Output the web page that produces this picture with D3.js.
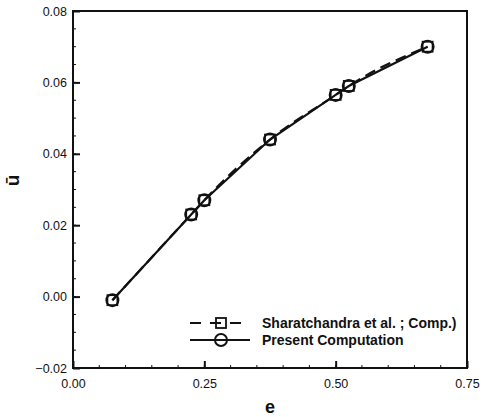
<!DOCTYPE html>
<html>
<head>
<meta charset="utf-8">
<script src="https://cdn.jsdelivr.net/npm/d3@7"></script>
<style>
  body { margin: 0; background: #fff; }
  text { font-family: "Liberation Sans", Arial, sans-serif; fill: #111; }
</style>
</head>
<body>
<div class="chart"></div>
<script>
// data
var eValues = [0.075, 0.225, 0.25, 0.375, 0.5, 0.525, 0.675];
var presentU = [-0.001, 0.023, 0.027, 0.044, 0.0565, 0.059, 0.070];
var sharatU = [-0.001, 0.023, 0.027, 0.044, 0.0565, 0.059, 0.070];
var xTicks = [0, 0.25, 0.5, 0.75];
var yTicks = [-0.02, 0, 0.02, 0.04, 0.06, 0.08];
var legendNames = ["Sharatchandra et al. ; Comp.)", "Present Computation"];

var margin = ({top: 11, right: 16, bottom: 49, left: 73});
var width = 483 - margin.left - margin.right,
    height = 417 - margin.top - margin.bottom;

var svg = d3.select(".chart").append("svg")
    .attr("width", 483)
    .attr("height", 417)
    .append("g")
    .attr("transform", "translate(" + margin.left + "," + margin.top + ")");

const xScale = d3.scaleLinear().domain([0, 0.75]).range([0, width]);
const yScale = d3.scaleLinear().domain([-0.02, 0.08]).range([height, 0]);

// minor ticks (inward)
const xMinor = d3.range(0, 0.7501, 0.05);
const yMinor = d3.range(-0.02, 0.0801, 0.005);

svg.append("g").selectAll("line")
    .data(xMinor)
    .enter().append("line")
    .attr("x1", d => xScale(d)).attr("x2", d => xScale(d))
    .attr("y1", height).attr("y2", height - 3)
    .attr("stroke", "#111").attr("stroke-width", 1);

svg.append("g").selectAll("line")
    .data(yMinor)
    .enter().append("line")
    .attr("x1", 0).attr("x2", 3)
    .attr("y1", d => yScale(d)).attr("y2", d => yScale(d))
    .attr("stroke", "#111").attr("stroke-width", 1);

const xAxis = d3.axisBottom(xScale)
    .tickValues(xTicks)
    .tickSize(-7)
    .tickPadding(11)
    .tickFormat(d3.format(".2f"));

const xAxisGroup = svg.append("g")
    .attr("transform", `translate(0, ${height})`)
    .call(xAxis);

const yAxis = d3.axisLeft(yScale)
    .tickValues(yTicks)
    .tickSize(-7)
    .tickPadding(6)
    .tickFormat(d3.format(".2f"));

const yAxisGroup = svg.append("g").call(yAxis);

[xAxisGroup, yAxisGroup].forEach(function(g) {
    g.select(".domain").remove();
    g.selectAll(".tick line").attr("stroke", "#111").attr("stroke-width", 2);
    g.selectAll(".tick text")
        .style("font-size", "12.5px")
        .style("font-family", "'Liberation Sans', Arial, sans-serif")
        .attr("fill", "#111");
});

// frame
svg.append("rect")
    .attr("width", width)
    .attr("height", height)
    .attr("fill", "none")
    .attr("stroke", "#111")
    .attr("stroke-width", 2);

svg.append("text")
    .attr("x", width / 2)
    .attr("y", height + 45)
    .attr("text-anchor", "middle")
    .style("font-size", "18px")
    .style("font-weight", "bold")
    .text("e");

svg.append("text")
    .attr("transform", "translate(-54," + (height / 2 - 9) + ") rotate(-90)")
    .attr("text-anchor", "middle")
    .style("font-size", "19px")
    .style("font-weight", "bold")
    .text("\u016B");

const dataP = eValues.map((e, i) => ({e: e, u: presentU[i]}));
const dataS = eValues.map((e, i) => ({e: e, u: sharatU[i]}));

const lineS = d3.line()
    .curve(d3.curveMonotoneX)
    .x(d => xScale(d.e))
    .y(d => yScale(d.u));

const lineP = d3.line()
    .x(d => xScale(d.e))
    .y(d => yScale(d.u));

svg.append("path")
    .datum(dataS)
    .attr("fill", "none")
    .attr("stroke", "#111")
    .attr("stroke-width", 2.2)
    .attr("stroke-dasharray", "11,6")
    .attr("d", lineS);

svg.append("path")
    .datum(dataP)
    .attr("fill", "none")
    .attr("stroke", "#111")
    .attr("stroke-width", 2.2)
    .attr("d", lineP);

svg.append("g").selectAll("rect")
    .data(dataS)
    .enter().append("rect")
    .attr("x", d => xScale(d.e) - 5)
    .attr("y", d => yScale(d.u) - 5)
    .attr("width", 10).attr("height", 10)
    .attr("fill", "none")
    .attr("stroke", "#111")
    .attr("stroke-width", 1.8);

svg.append("g").selectAll("circle")
    .data(dataP)
    .enter().append("circle")
    .attr("cx", d => xScale(d.e))
    .attr("cy", d => yScale(d.u))
    .attr("r", 6)
    .attr("fill", "none")
    .attr("stroke", "#111")
    .attr("stroke-width", 2);

// legend
const legend = svg.append("g")
    .attr("transform", "translate(" + (190 - margin.left) + "," + (323 - margin.top) + ")");

legendNames.forEach(function(name, i) {
    const g = legend.append("g").attr("transform", "translate(0," + (i * 17) + ")");
    g.append("line")
        .attr("x1", 0).attr("x2", 60)
        .attr("stroke", "#111").attr("stroke-width", 2)
        .attr("stroke-dasharray", i === 0 ? "11,9" : null);
    if (i === 0) {
        g.append("rect").attr("x", 26).attr("y", -5).attr("width", 10).attr("height", 10)
            .attr("fill", "none").attr("stroke", "#111").attr("stroke-width", 1.8);
    } else {
        g.append("circle").attr("cx", 31).attr("r", 6)
            .attr("fill", "none").attr("stroke", "#111").attr("stroke-width", 2);
    }
    g.append("text")
        .attr("x", 72)
        .attr("dy", "0.35em")
        .style("font-size", "14px")
        .style("font-weight", "bold")
        .text(name);
});
</script>
</body>
</html>
